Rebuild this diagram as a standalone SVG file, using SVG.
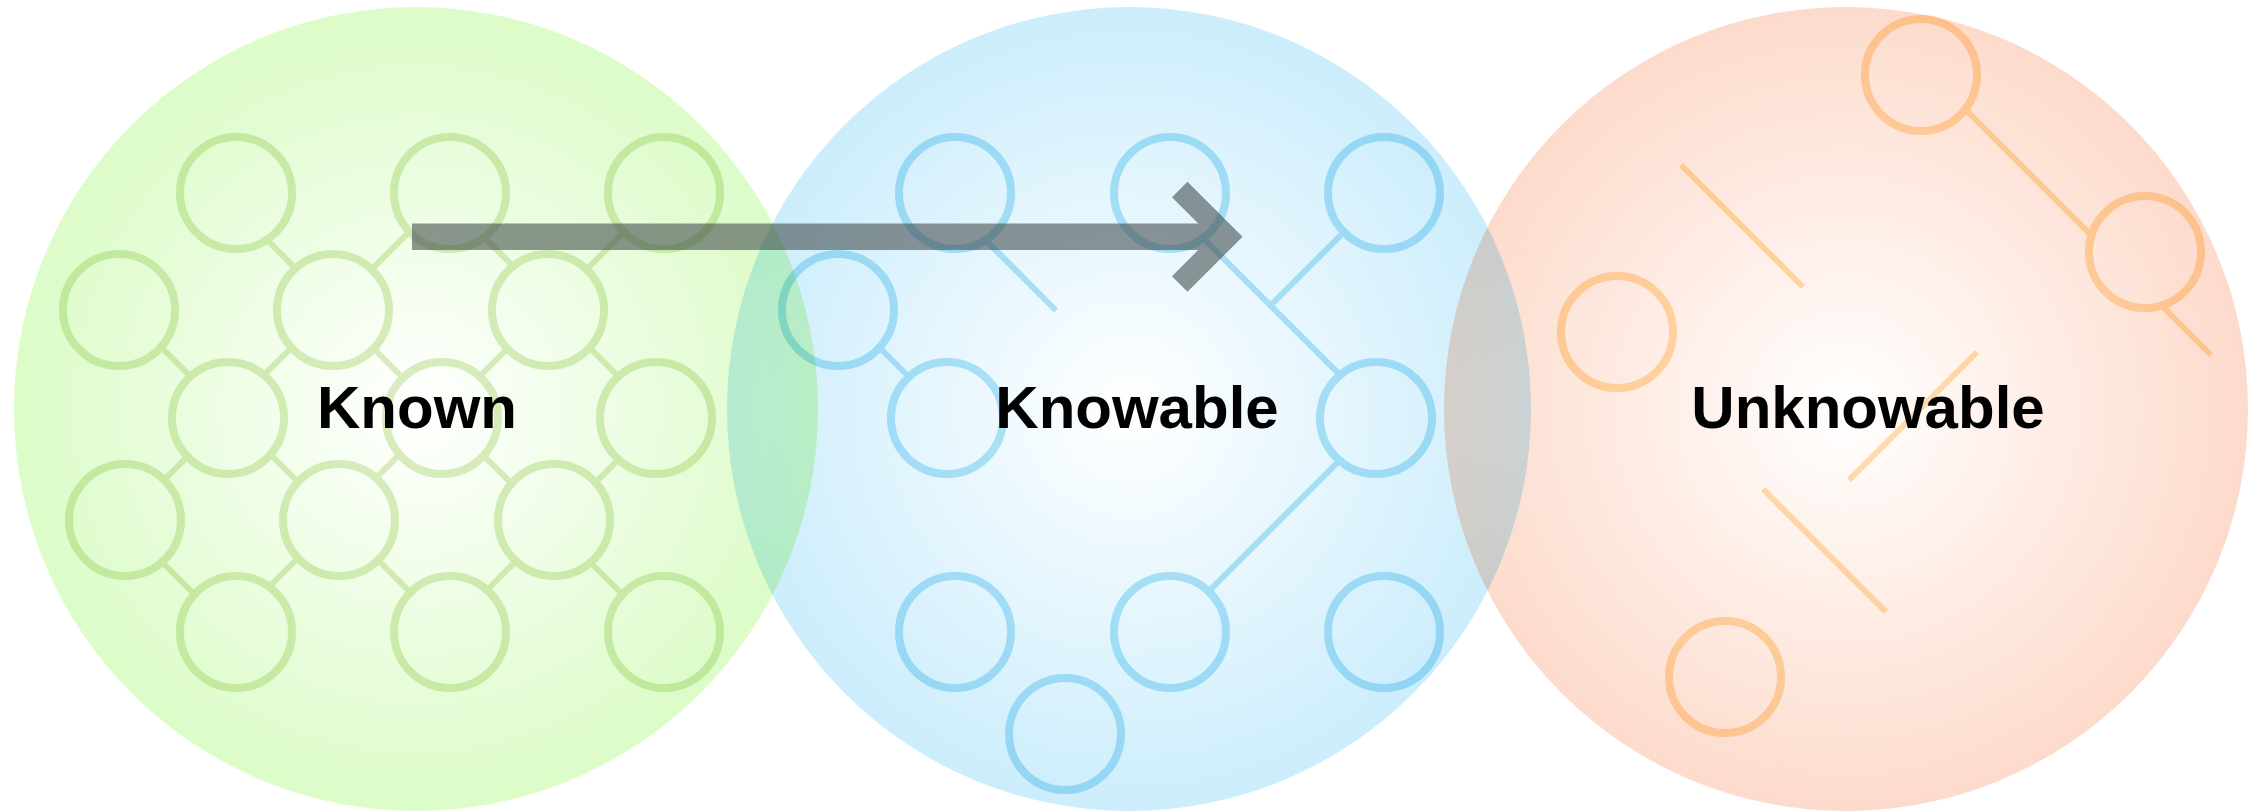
<svg xmlns="http://www.w3.org/2000/svg" width="2255" height="812" viewBox="0 0 2255 812">
  <defs>
    <style>
      .zone { mix-blend-mode: multiply; }
      .net { mix-blend-mode: multiply; fill: none; }
      .net circle { stroke-width: 8; }
      .net line { stroke-width: 6; stroke-linecap: butt; }
      .g-net { stroke: #dcecc2; }
      .b-net { stroke: #b5e6f7; }
      .o-net { stroke: #ffe0ae; }
      .label { font-family: "Liberation Sans", Arial, sans-serif; font-weight: 700; font-size: 60px; fill: #000; text-anchor: middle; }
    </style>
    <radialGradient id="gradKnown">
      <stop offset="0" stop-color="#ffffff"/>
      <stop offset="1" stop-color="#dcfcc8"/>
    </radialGradient>
    <radialGradient id="gradKnowable">
      <stop offset="0" stop-color="#ffffff"/>
      <stop offset="1" stop-color="#ccedfc"/>
    </radialGradient>
    <radialGradient id="gradUnknowable">
      <stop offset="0" stop-color="#ffffff"/>
      <stop offset="1" stop-color="#fddbcc"/>
    </radialGradient>
    <!-- hide link segments inside the hollow of each small ring -->
    <mask id="maskKnown" maskUnits="userSpaceOnUse" x="0" y="0" width="2255" height="812">
      <rect width="2255" height="812" fill="#fff"/>
      <g fill="#000">
        <circle cx="236" cy="193" r="52"/><circle cx="450" cy="193" r="52"/><circle cx="664" cy="193" r="52"/>
        <circle cx="119" cy="310" r="52"/><circle cx="333" cy="310" r="52"/><circle cx="548" cy="310" r="52"/>
        <circle cx="228" cy="418" r="52"/><circle cx="442" cy="418" r="52"/><circle cx="656" cy="418" r="52"/>
        <circle cx="125" cy="520" r="52"/><circle cx="339" cy="520" r="52"/><circle cx="554" cy="520" r="52"/>
        <circle cx="236" cy="632" r="52"/><circle cx="450" cy="632" r="52"/><circle cx="664" cy="632" r="52"/>
      </g>
    </mask>
    <mask id="maskKnowable" maskUnits="userSpaceOnUse" x="0" y="0" width="2255" height="812">
      <rect width="2255" height="812" fill="#fff"/>
      <g fill="#000">
        <circle cx="955" cy="193" r="52"/><circle cx="1170" cy="193" r="52"/><circle cx="1384" cy="193" r="52"/>
        <circle cx="838" cy="310" r="52"/><circle cx="947" cy="418" r="52"/><circle cx="1376" cy="418" r="52"/>
        <circle cx="955" cy="632" r="52"/><circle cx="1170" cy="632" r="52"/><circle cx="1384" cy="632" r="52"/>
        <circle cx="1065" cy="734" r="52"/>
      </g>
    </mask>
    <mask id="maskUnknowable" maskUnits="userSpaceOnUse" x="0" y="0" width="2255" height="812">
      <rect width="2255" height="812" fill="#fff"/>
      <g fill="#000">
        <circle cx="1921" cy="75" r="52"/><circle cx="2145" cy="252" r="52"/>
        <circle cx="1617" cy="332" r="52"/><circle cx="1725" cy="677" r="52"/>
      </g>
    </mask>
  </defs>

  <rect width="2255" height="812" fill="#ffffff"/>

  <!-- Known: dense, fully linked network -->
  <g id="known">
    <circle class="zone" cx="416" cy="409" r="402" fill="url(#gradKnown)"/>
    <g class="net g-net">
      <g mask="url(#maskKnown)">
        <line x1="228" y1="201" x2="335" y2="308"/>
        <line x1="449" y1="192" x2="332" y2="309"/>
        <line x1="445" y1="198" x2="552.5" y2="305.5"/>
        <line x1="663.5" y1="192.5" x2="547" y2="309"/>
        <line x1="121.5" y1="307.5" x2="230" y2="416"/>
        <line x1="331" y1="308" x2="224.5" y2="414.5"/>
        <line x1="334" y1="309" x2="442.5" y2="417.5"/>
        <line x1="547" y1="309" x2="440" y2="416"/>
        <line x1="550" y1="308" x2="658" y2="416"/>
        <line x1="227" y1="417" x2="124.5" y2="519.5"/>
        <line x1="231" y1="415" x2="337.5" y2="521.5"/>
        <line x1="439" y1="415" x2="336.5" y2="517.5"/>
        <line x1="444" y1="416" x2="551" y2="523"/>
        <line x1="658" y1="420" x2="556" y2="522"/>
        <line x1="122.5" y1="522.5" x2="234" y2="634"/>
        <line x1="337.5" y1="518.5" x2="230" y2="626"/>
        <line x1="338.5" y1="520.5" x2="450" y2="632"/>
        <line x1="555.5" y1="521.5" x2="447.5" y2="629.5"/>
        <line x1="551" y1="523" x2="662" y2="634"/>
      </g>
      <circle cx="236" cy="193" r="56"/><circle cx="450" cy="193" r="56"/><circle cx="664" cy="193" r="56"/>
      <circle cx="119" cy="310" r="56"/><circle cx="333" cy="310" r="56"/><circle cx="548" cy="310" r="56"/>
      <circle cx="228" cy="418" r="56"/><circle cx="442" cy="418" r="56"/><circle cx="656" cy="418" r="56"/>
      <circle cx="125" cy="520" r="56"/><circle cx="339" cy="520" r="56"/><circle cx="554" cy="520" r="56"/>
      <circle cx="236" cy="632" r="56"/><circle cx="450" cy="632" r="56"/><circle cx="664" cy="632" r="56"/>
    </g>
    <text class="label" x="417" y="428">Known</text>
  </g>

  <!-- Knowable: partial network with open links -->
  <g id="knowable">
    <circle class="zone" cx="1129" cy="409" r="402" fill="url(#gradKnowable)"/>
    <g class="net b-net">
      <g mask="url(#maskKnowable)">
        <line x1="946.75" y1="201.25" x2="1056" y2="310.5"/>
        <line x1="840" y1="308" x2="948.5" y2="416.5"/>
        <line x1="1164" y1="199" x2="1379.5" y2="414.5"/>
        <line x1="1270.5" y1="305.5" x2="1383.5" y2="192.5"/>
        <line x1="1379" y1="421" x2="1169" y2="631"/>
      </g>
      <circle cx="955" cy="193" r="56"/><circle cx="1170" cy="193" r="56"/><circle cx="1384" cy="193" r="56"/>
      <circle cx="838" cy="310" r="56"/><circle cx="947" cy="418" r="56"/><circle cx="1376" cy="418" r="56"/>
      <circle cx="955" cy="632" r="56"/><circle cx="1170" cy="632" r="56"/><circle cx="1384" cy="632" r="56"/>
      <circle cx="1065" cy="734" r="56"/>
    </g>
    <text class="label" x="1137" y="428">Knowable</text>
  </g>

  <!-- Unknowable: scattered rings and loose links -->
  <g id="unknowable">
    <circle class="zone" cx="1846" cy="409" r="402" fill="url(#gradUnknowable)"/>
    <g class="net o-net">
      <g mask="url(#maskUnknowable)">
        <line x1="1925" y1="69" x2="2211" y2="355"/>
        <line x1="1681" y1="165" x2="1803" y2="287"/>
        <line x1="1977" y1="352" x2="1849" y2="480"/>
        <line x1="1763" y1="489" x2="1886" y2="612"/>
      </g>
      <circle cx="1921" cy="75" r="56"/><circle cx="2145" cy="252" r="56"/>
      <circle cx="1617" cy="332" r="56"/><circle cx="1725" cy="677" r="56"/>
    </g>
    <text class="label" x="1868" y="428">Unknowable</text>
  </g>

  <!-- transition arrow from Known into Knowable -->
  <g id="connectors" opacity="0.57">
    <rect x="412" y="223.5" width="802" height="26.5" fill="#3c4646"/>
    <polyline points="1179.7,189.5 1227,236.75 1179.7,284" fill="none" stroke="#3c4646" stroke-width="22" stroke-linejoin="miter" stroke-linecap="butt"/>
  </g>
</svg>
